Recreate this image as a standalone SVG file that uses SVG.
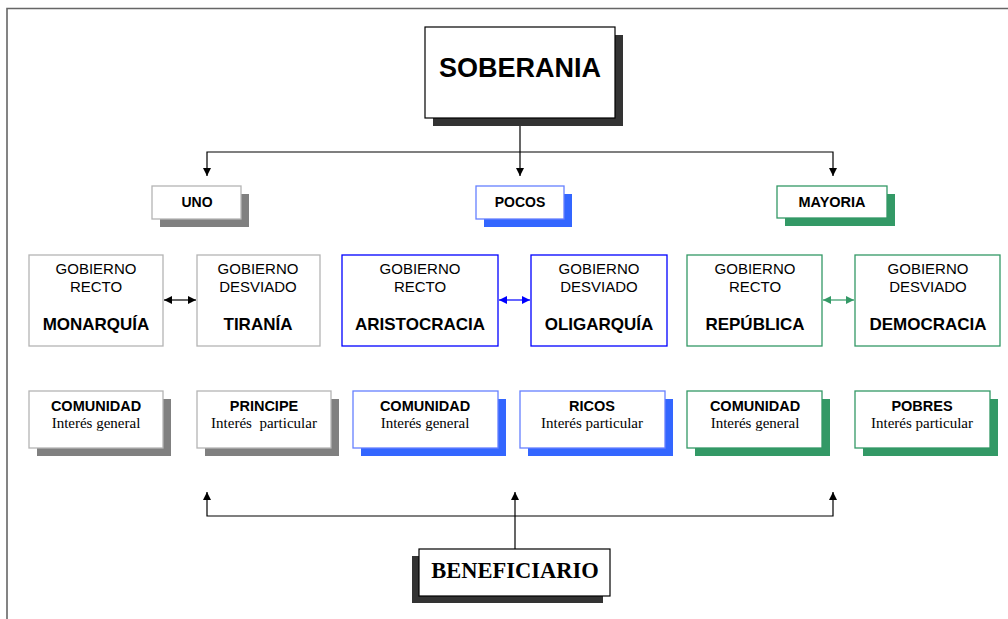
<svg xmlns="http://www.w3.org/2000/svg" width="1008" height="619" viewBox="0 0 1008 619">
<style>
.sans{font-family:"Liberation Sans",Arial,sans-serif;fill:#000;text-anchor:middle}
.serif{font-family:"Liberation Serif","Times New Roman",serif;fill:#000;text-anchor:middle}
.b{font-weight:bold}
.box{fill:#fff}
.gray{stroke:#b4b4b4;stroke-width:1.3}
.blue{stroke:#0000ff;stroke-width:1.3}
.lblue{stroke:#6680ff;stroke-width:1.3}
.green{stroke:#339966;stroke-width:1.3}
.dark{stroke:#000;stroke-width:1.2}
.sh-gray{fill:#808080}
.sh-blue{fill:#3366ff}
.sh-green{fill:#339966}
.sh-dark{fill:#333}
.line{fill:none;stroke:#000;stroke-width:1.2}
</style>
<defs>
<marker id="ah" viewBox="0 0 10 10" refX="10" refY="5" markerWidth="8" markerHeight="8" markerUnits="userSpaceOnUse" orient="auto-start-reverse"><path d="M0,0 L10,5 L0,10 z" fill="#000"/></marker>
<marker id="ahb" viewBox="0 0 10 10" refX="10" refY="5" markerWidth="8" markerHeight="8" markerUnits="userSpaceOnUse" orient="auto-start-reverse"><path d="M0,0 L10,5 L0,10 z" fill="#0000ff"/></marker>
<marker id="ahg" viewBox="0 0 10 10" refX="10" refY="5" markerWidth="8" markerHeight="8" markerUnits="userSpaceOnUse" orient="auto-start-reverse"><path d="M0,0 L10,5 L0,10 z" fill="#339966"/></marker>
</defs>
<rect width="1008" height="619" fill="#fff"/>
<g id="frame" fill="none" stroke="#666" stroke-width="1.6">
<path d="M7,619 L7,8.5 L1008,8.5"/>
</g>
<g id="connectors">
<path class="line" d="M520,118 L520,152"/>
<path class="line" d="M207,176 L207,152 L833,152 L833,176" marker-start="url(#ah)" marker-end="url(#ah)"/>
<path class="line" d="M520,152 L520,176" marker-end="url(#ah)"/>
<path class="line" d="M164,300 L196,300" marker-start="url(#ah)" marker-end="url(#ah)"/>
<path fill="none" stroke="#0000ff" stroke-width="1.2" d="M499,300 L530,300" marker-start="url(#ahb)" marker-end="url(#ahb)"/>
<path fill="none" stroke="#339966" stroke-width="1.2" d="M823,300 L854,300" marker-start="url(#ahg)" marker-end="url(#ahg)"/>
<path class="line" d="M207,492 L207,516 L833,516 L833,492" marker-start="url(#ah)" marker-end="url(#ah)"/>
<path class="line" d="M515,549 L515,492" marker-end="url(#ah)"/>
</g>
<g id="soberania">
<rect class="sh-dark" x="433" y="35" width="190" height="91"/>
<rect class="box dark" x="425" y="27" width="190" height="91"/>
<text class="sans b" x="520" y="77" font-size="27">SOBERANIA</text>
</g>
<g id="uno">
<rect class="sh-gray" x="160" y="194" width="89" height="33"/>
<rect class="box gray" x="152" y="186" width="89" height="33"/>
<text class="sans b" x="197" y="207" font-size="14">UNO</text>
</g>
<g id="pocos">
<rect class="sh-blue" x="484" y="194" width="88" height="33"/>
<rect class="box lblue" x="476" y="186" width="88" height="33"/>
<text class="sans b" x="520" y="207" font-size="14">POCOS</text>
</g>
<g id="mayoria">
<rect class="sh-green" x="785" y="194" width="110" height="32"/>
<rect class="box green" x="777" y="186" width="110" height="32"/>
<text class="sans b" x="832" y="207" font-size="14.5">MAYORIA</text>
</g>
<g id="monarquia">
<rect class="box gray" x="29" y="255" width="134" height="91"/>
<text class="sans" x="96" y="274" font-size="15">GOBIERNO</text>
<text class="sans" x="96" y="292" font-size="15">RECTO</text>
<text class="sans b" x="96" y="330" font-size="17">MONARQUÍA</text>
</g>
<g id="tirania">
<rect class="box gray" x="197" y="255" width="123" height="91"/>
<text class="sans" x="258" y="274" font-size="15">GOBIERNO</text>
<text class="sans" x="258" y="292" font-size="15">DESVIADO</text>
<text class="sans b" x="258" y="330" font-size="17">TIRANÍA</text>
</g>
<g id="aristocracia">
<rect class="box blue" x="342" y="255" width="156" height="91"/>
<text class="sans" x="420" y="274" font-size="15">GOBIERNO</text>
<text class="sans" x="420" y="292" font-size="15">RECTO</text>
<text class="sans b" x="420" y="330" font-size="17">ARISTOCRACIA</text>
</g>
<g id="oligarquia">
<rect class="box blue" x="531" y="255" width="136" height="91"/>
<text class="sans" x="599" y="274" font-size="15">GOBIERNO</text>
<text class="sans" x="599" y="292" font-size="15">DESVIADO</text>
<text class="sans b" x="599" y="330" font-size="17">OLIGARQUÍA</text>
</g>
<g id="republica">
<rect class="box green" x="687" y="255" width="135" height="91"/>
<text class="sans" x="755" y="274" font-size="15">GOBIERNO</text>
<text class="sans" x="755" y="292" font-size="15">RECTO</text>
<text class="sans b" x="755" y="330" font-size="17">REPÚBLICA</text>
</g>
<g id="democracia">
<rect class="box green" x="855" y="255" width="145" height="91"/>
<text class="sans" x="928" y="274" font-size="15">GOBIERNO</text>
<text class="sans" x="928" y="292" font-size="15">DESVIADO</text>
<text class="sans b" x="928" y="330" font-size="17">DEMOCRACIA</text>
</g>
<g id="comunidad1">
<rect class="sh-gray" x="37" y="399" width="134" height="57"/>
<rect class="box gray" x="29" y="391" width="134" height="57"/>
<text class="sans b" x="96" y="411" font-size="14.5">COMUNIDAD</text>
<text class="serif" x="96" y="428" font-size="15">Interés general</text>
</g>
<g id="principe">
<rect class="sh-gray" x="205" y="399" width="134" height="57"/>
<rect class="box gray" x="197" y="391" width="134" height="57"/>
<text class="sans b" x="264" y="411" font-size="14.5">PRINCIPE</text>
<text class="serif" x="264" y="428" font-size="15" xml:space="preserve">Interés  particular</text>
</g>
<g id="comunidad2">
<rect class="sh-blue" x="361" y="399" width="145" height="57"/>
<rect class="box lblue" x="353" y="391" width="145" height="57"/>
<text class="sans b" x="425" y="411" font-size="14.5">COMUNIDAD</text>
<text class="serif" x="425" y="428" font-size="15">Interés general</text>
</g>
<g id="ricos">
<rect class="sh-blue" x="528" y="399" width="145" height="57"/>
<rect class="box lblue" x="520" y="391" width="145" height="57"/>
<text class="sans b" x="592" y="411" font-size="14.5">RICOS</text>
<text class="serif" x="592" y="428" font-size="15">Interés particular</text>
</g>
<g id="comunidad3">
<rect class="sh-green" x="695" y="399" width="135" height="57"/>
<rect class="box green" x="687" y="391" width="135" height="57"/>
<text class="sans b" x="755" y="411" font-size="14.5">COMUNIDAD</text>
<text class="serif" x="755" y="428" font-size="15">Interés general</text>
</g>
<g id="pobres">
<rect class="sh-green" x="863" y="399" width="135" height="57"/>
<rect class="box green" x="855" y="391" width="135" height="57"/>
<text class="sans b" x="922" y="411" font-size="14.5">POBRES</text>
<text class="serif" x="922" y="428" font-size="15">Interés particular</text>
</g>
<g id="beneficiario">
<rect class="sh-dark" x="412" y="556" width="191" height="47"/>
<rect class="box dark" x="419" y="549" width="191" height="47"/>
<text class="serif b" x="515" y="578" font-size="22.5">BENEFICIARIO</text>
</g>
</svg>
